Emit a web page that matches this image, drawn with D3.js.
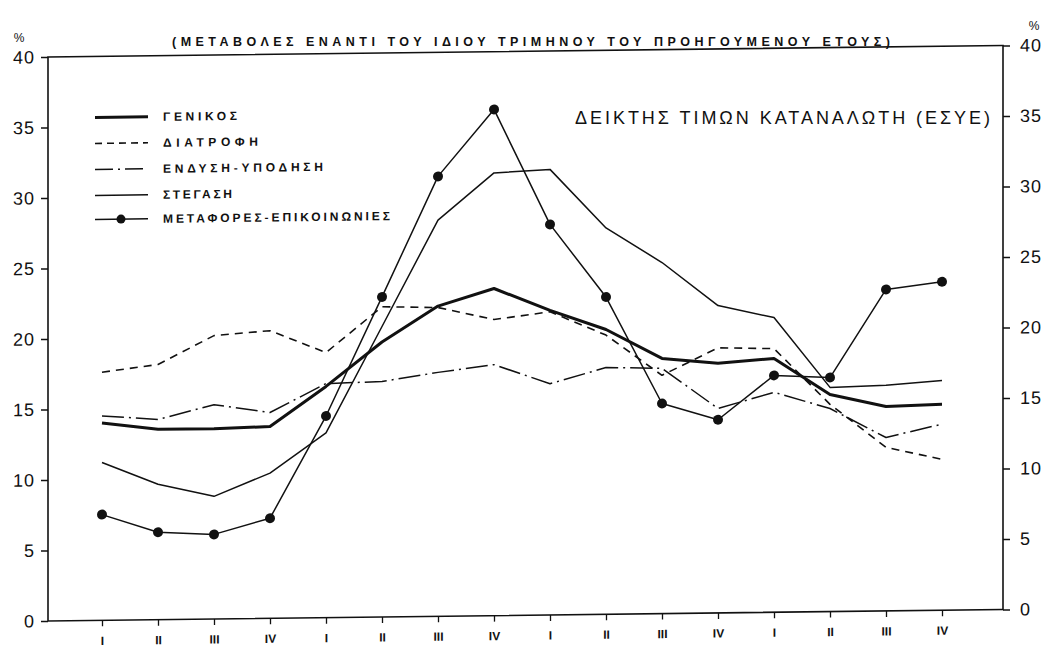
<!DOCTYPE html>
<html>
<head>
<meta charset="utf-8">
<script src="https://cdn.jsdelivr.net/npm/d3@7"></script>
<style>
  body { margin: 0; background: #fff; }
  text { font-family: "Liberation Sans", Arial, sans-serif; fill: #111; }
</style>
</head>
<body>
<svg id="main_svg" width="1056" height="663"></svg>
<script>
// quarters, 4 years
const quarters = ["I","II","III","IV","I","II","III","IV","I","II","III","IV","I","II","III","IV"]
const y_ticks = [0,5,10,15,20,25,30,35,40]

const genikos   = [14.0, 13.5, 13.5, 13.6, 16.4, 19.5, 22.0, 23.2, 21.6, 20.2, 18.1, 17.7, 18.0, 15.4, 14.5, 14.6]
const diatrofi  = [17.6, 18.1, 20.1, 20.4, 18.8, 22.0, 21.9, 21.0, 21.5, 19.8, 16.9, 18.8, 18.7, 14.7, 11.6, 10.7]
const endysi    = [14.5, 14.2, 15.2, 14.6, 16.6, 16.7, 17.3, 17.8, 16.4, 17.5, 17.4, 14.5, 15.6, 14.4, 12.3, 13.2]
const stegasi   = [11.2, 9.6, 8.7, 10.3, 13.1, 20.6, 28.1, 31.4, 31.6, 27.4, 24.9, 21.8, 20.9, 15.9, 16.0, 16.3]
const metafores = [7.5, 6.2, 6.0, 7.1, 14.3, 22.7, 31.2, 35.9, 27.7, 22.5, 14.9, 13.7, 16.8, 16.6, 22.8, 23.3]

const series = [
    {name:"ΓΕΝΙΚΟΣ", values:genikos, width:3, dash:null, dots:false, len:74},
    {name:"ΔΙΑΤΡΟΦΗ", values:diatrofi, width:1.6, dash:"8,6", dots:false, len:95},
    {name:"ΕΝΔΥΣΗ-ΥΠΟΔΗΣΗ", values:endysi, width:1.5, dash:"22,5,2,5", dots:false, len:160},
    {name:"ΣΤΕΓΑΣΗ", values:stegasi, width:1.5, dash:null, dots:false, len:69},
    {name:"ΜΕΤΑΦΟΡΕΣ-ΕΠΙΚΟΙΝΩΝΙΕΣ", values:metafores, width:1.5, dash:null, dots:true, len:227}
]

const plot_l=48, plot_r=1003, plot_t=57, plot_b=621

const svg = d3.select("#main_svg")

const x = d3.scalePoint()
    .domain(d3.range(quarters.length))
    .range([46, 998])
    .padding(1)
const y = d3.scaleLinear().domain([0,40]).range([plot_b, plot_t])

// the scan is slightly sheared
const g = svg.append("g")
    .attr("transform", "translate("+plot_l+","+plot_b+") skewY(-0.69) translate("+(-plot_l)+","+(-plot_b)+")")

g.append("rect")
    .attr("x", plot_l).attr("y", plot_t)
    .attr("width", plot_r-plot_l).attr("height", plot_b-plot_t)
    .attr("fill", "none").attr("stroke", "#111").attr("stroke-width", 1.6)

const yl = g.append("g")
    .attr("transform", "translate("+plot_l+",0)")
    .call(d3.axisLeft(y).tickValues(y_ticks).tickSize(7).tickPadding(6))
yl.select(".domain").remove()

const yr = g.append("g")
    .attr("transform", "translate("+plot_r+",0)")
    .call(d3.axisRight(y).tickValues(y_ticks).tickSize(7).tickPadding(10))
yr.select(".domain").remove()

g.selectAll(".tick line").attr("stroke", "#111").attr("stroke-width", 1.5)
g.selectAll(".tick text")
    .attr("font-size", 18)
    .attr("letter-spacing", 1)
    .attr("fill", "#111")

const xa = g.append("g")
    .attr("transform", "translate(0,"+plot_b+")")
    .call(d3.axisBottom(x).tickSize(6).tickPadding(10).tickFormat(i => quarters[i]))
xa.select(".domain").remove()
xa.selectAll(".tick line").attr("stroke", "#111").attr("stroke-width", 1.3)
xa.selectAll(".tick text")
    .attr("font-size", 12)
    .attr("font-family", "Liberation Serif, serif")
    .attr("font-weight", "bold")
    .attr("fill", "#111")

const line = d3.line()
    .x((d,i) => x(i))
    .y(d => y(d))

for(const s of series){
    g.append("path")
        .datum(s.values)
        .attr("d", line)
        .attr("fill", "none")
        .attr("stroke", "#111")
        .attr("stroke-width", s.width)
        .attr("stroke-dasharray", s.dash)
        .attr("stroke-linejoin", "round")
    if(s.dots){
        g.selectAll(".dot")
            .data(s.values)
            .enter()
            .append("circle")
            .attr("class", "dot")
            .attr("cx", (d,i) => x(i))
            .attr("cy", d => y(d))
            .attr("r", 5)
            .attr("fill", "#111")
    }
}

// legend
const legend_y = [118, 144, 170, 196, 220]
series.forEach((s,i) => {
    g.append("line")
        .attr("x1", 95).attr("x2", 148)
        .attr("y1", legend_y[i]).attr("y2", legend_y[i])
        .attr("stroke", "#111")
        .attr("stroke-width", s.width)
        .attr("stroke-dasharray", s.dash ? (i==1 ? "7,5" : "18,5,2,5") : null)
    if(s.dots){
        g.append("circle").attr("cx", 121).attr("cy", legend_y[i]).attr("r", 4.5).attr("fill", "#111")
    }
    g.append("text")
        .attr("x", 163).attr("y", legend_y[i])
        .attr("dy", "0.35em")
        .attr("font-size", 12)
        .attr("font-weight", "bold")
        .attr("textLength", s.len)
        .attr("lengthAdjust", "spacing")
        .text(s.name)
})

svg.append("text")
    .attr("x", 575).attr("y", 118)
    .attr("dy", "0.35em")
    .attr("font-size", 18)
    .attr("textLength", 415)
    .attr("lengthAdjust", "spacing")
    .text("ΔΕΙΚΤΗΣ ΤΙΜΩΝ ΚΑΤΑΝΑΛΩΤΗ (ΕΣΥΕ)")

// header texts
svg.append("text")
    .attr("x", 172).attr("y", 42)
    .attr("dy", "0.35em")
    .attr("font-size", 12.5)
    .attr("font-weight", "bold")
    .attr("textLength", 718)
    .attr("lengthAdjust", "spacing")
    .text("(ΜΕΤΑΒΟΛΕΣ  ΕΝΑΝΤΙ ΤΟΥ ΙΔΙΟΥ ΤΡΙΜΗΝΟΥ ΤΟΥ ΠΡΟΗΓΟΥΜΕΝΟΥ ΕΤΟΥΣ)")

svg.append("text")
    .attr("x", 19).attr("y", 38)
    .attr("dy", "0.35em")
    .attr("text-anchor", "middle")
    .attr("font-size", 12)
    .text("%")

svg.append("text")
    .attr("x", 1034).attr("y", 26)
    .attr("dy", "0.35em")
    .attr("text-anchor", "middle")
    .attr("font-size", 12)
    .text("%")
</script>
</body>
</html>
